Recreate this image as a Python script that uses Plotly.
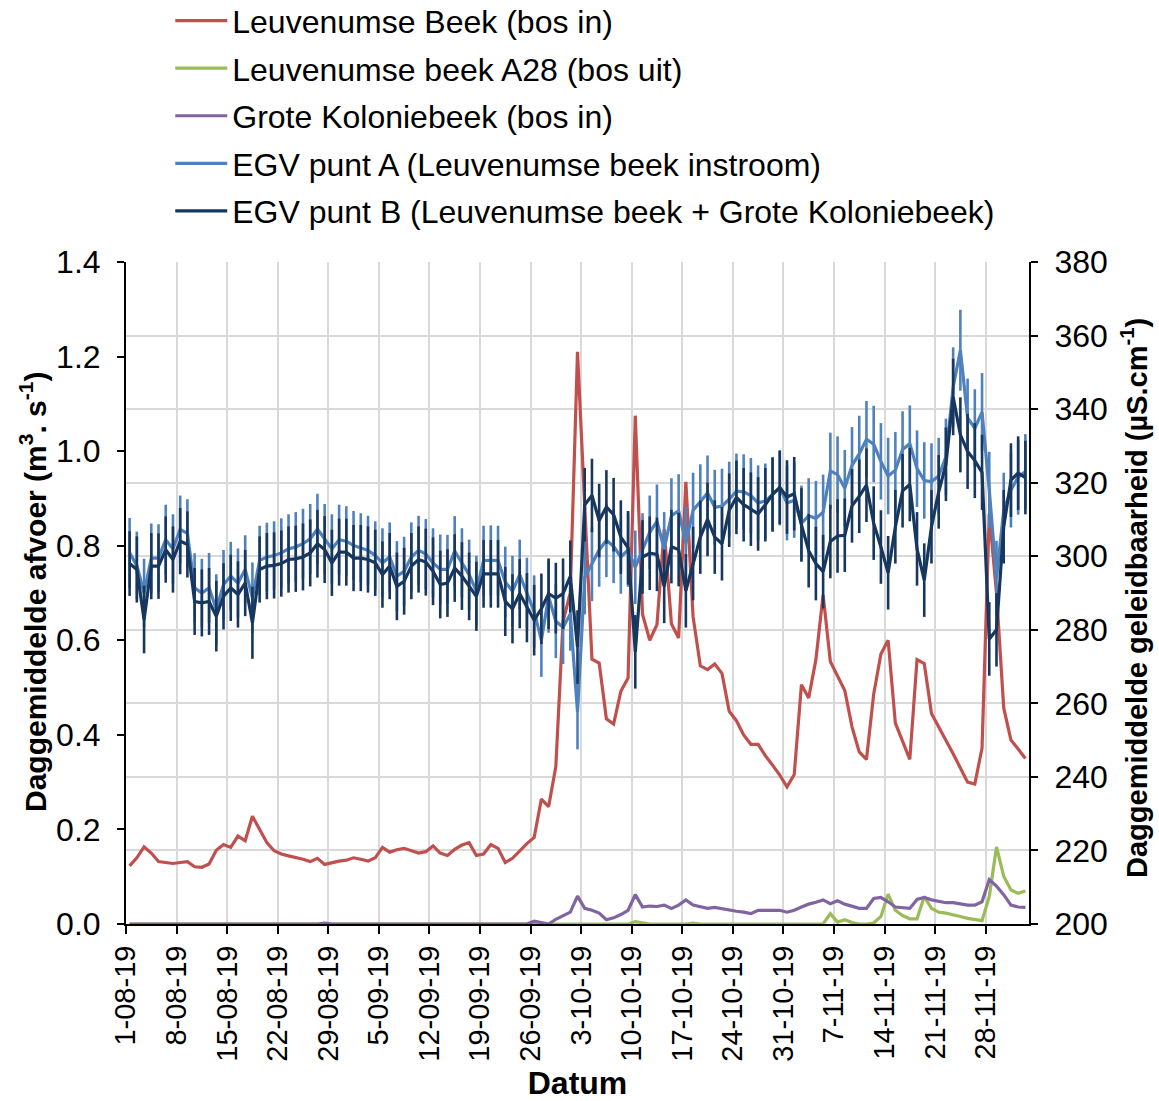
import pandas as pd
import plotly.graph_objects as go

# ---- categories (daily means, 1-08-2019 .. 3-12-2019, plotted at mid-day) ----
dates = pd.date_range("2019-08-01 12:00", periods=125, freq="D")

tick_vals = ["2019-08-01", "2019-08-08", "2019-08-15", "2019-08-22", "2019-08-29",
             "2019-09-05", "2019-09-12", "2019-09-19", "2019-09-26", "2019-10-03",
             "2019-10-10", "2019-10-17", "2019-10-24", "2019-10-31", "2019-11-07",
             "2019-11-14", "2019-11-21", "2019-11-28"]
tick_text = ["1-08-19", "8-08-19", "15-08-19", "22-08-19", "29-08-19",
             "5-09-19", "12-09-19", "19-09-19", "26-09-19", "3-10-19",
             "10-10-19", "17-10-19", "24-10-19", "31-10-19", "7-11-19",
             "14-11-19", "21-11-19", "28-11-19"]

# ---- discharge (m3/s), left axis ----
leuvenumse_beek = [
    0.123, 0.14, 0.163, 0.15, 0.132, 0.13, 0.128, 0.13, 0.132, 0.121,
    0.12, 0.127, 0.156, 0.168, 0.162, 0.186, 0.176, 0.228, 0.199, 0.172,
    0.155, 0.148, 0.144, 0.141, 0.137, 0.132, 0.139, 0.126, 0.13, 0.133,
    0.135, 0.14, 0.137, 0.133, 0.14, 0.162, 0.152, 0.157, 0.16, 0.155,
    0.15, 0.153, 0.165, 0.15, 0.145, 0.158, 0.167, 0.172, 0.145, 0.148,
    0.168, 0.16, 0.13, 0.139, 0.155, 0.17, 0.183, 0.264, 0.248, 0.333,
    0.64, 0.70, 1.21, 0.88, 0.56, 0.552, 0.434, 0.423, 0.492, 0.52,
    1.075, 0.655, 0.6, 0.633, 0.835, 0.635, 0.605, 0.935, 0.65, 0.546,
    0.538, 0.55, 0.53, 0.45, 0.43, 0.4, 0.38, 0.38, 0.356, 0.336,
    0.315, 0.29, 0.316, 0.506, 0.478, 0.559, 0.696, 0.555, 0.526, 0.494,
    0.417, 0.364, 0.348, 0.486, 0.571, 0.6, 0.425, 0.385, 0.348, 0.559,
    0.551, 0.445, 0.417, 0.39, 0.36, 0.33, 0.3, 0.296, 0.372, 0.868,
    0.7, 0.457, 0.389, 0.37, 0.35]

leuvenumse_a28 = [
    0, 0, 0, 0, 0, 0, 0, 0, 0, 0,
    0, 0, 0, 0, 0, 0, 0, 0, 0, 0,
    0, 0, 0, 0, 0, 0, 0, 0, 0, 0,
    0, 0, 0, 0, 0, 0, 0, 0, 0, 0,
    0, 0, 0, 0, 0, 0, 0, 0, 0, 0,
    0, 0, 0, 0, 0, 0, 0, 0, 0, 0,
    0, 0, 0, 0, 0, 0, 0, 0, 0, 0,
    0.005, 0.003, 0, 0, 0, 0, 0, 0, 0.002, 0,
    0, 0, 0, 0, 0, 0, 0, 0, 0, 0,
    0, 0, 0, 0, 0, 0, 0, 0.022, 0.004, 0.009,
    0.003, 0, 0, 0.002, 0.016, 0.063, 0.029, 0.018, 0.011, 0.011,
    0.058, 0.033, 0.025, 0.023, 0.02, 0.016, 0.012, 0.009, 0.007, 0.058,
    0.163, 0.101, 0.072, 0.065, 0.07]

grote_koloniebeek = [
    0, 0, 0, 0, 0, 0, 0, 0, 0, 0,
    0, 0, 0, 0, 0, 0, 0, 0, 0, 0,
    0, 0, 0, 0, 0, 0, 0, 0.002, 0, 0,
    0, 0, 0, 0, 0, 0, 0, 0, 0, 0,
    0, 0, 0, 0, 0, 0, 0, 0, 0, 0,
    0, 0, 0, 0, 0, 0, 0.006, 0.003, 0.0, 0.01,
    0.018, 0.025, 0.059, 0.033, 0.029, 0.023, 0.009, 0.013, 0.02, 0.029,
    0.062, 0.036, 0.038, 0.037, 0.04, 0.033, 0.04, 0.051, 0.04, 0.037,
    0.033, 0.035, 0.032, 0.029, 0.027, 0.025, 0.022, 0.029, 0.029, 0.029,
    0.029, 0.025, 0.029, 0.036, 0.042, 0.046, 0.051, 0.043, 0.049, 0.042,
    0.037, 0.033, 0.033, 0.054, 0.056, 0.047, 0.036, 0.034, 0.033, 0.052,
    0.056, 0.051, 0.048, 0.045, 0.045, 0.043, 0.04, 0.04, 0.047, 0.094,
    0.08, 0.062, 0.04, 0.036, 0.035]

# ---- conductivity (uS/cm), right axis ----
egv_a = [
    300.9, 297.5, 290.0, 299.5, 299.5, 304.5, 302.0, 307.3, 306.2, 291.4,
    290.0, 291.4, 285.5, 292.3, 294.6, 292.7, 296.4, 288.7, 298.9, 299.8,
    300.2, 300.9, 302.0, 302.5, 303.4, 304.7, 307.4, 304.7, 302.0, 304.5,
    304.1, 302.9, 302.3, 301.6, 300.2, 298.2, 299.8, 294.6, 295.9, 299.8,
    301.6, 300.6, 298.2, 296.4, 296.4, 301.4, 298.2, 295.0, 290.5, 298.8,
    298.9, 298.8, 293.0, 290.5, 295.0, 290.0, 285.0, 277.2, 289.0, 282.3,
    280.7, 284.3, 257.7, 294.2, 297.8, 301.7, 304.3, 302.7, 299.8, 301.7,
    297.0, 301.7, 306.5, 309.5, 302.0, 311.0, 312.3, 303.5, 312.5, 314.8,
    317.2, 313.3, 313.6, 315.5, 317.7, 317.5, 316.5, 314.5, 315.0, 316.8,
    318.6, 314.5, 315.2, 309.0, 311.0, 310.3, 312.0, 323.2, 322.2, 318.5,
    324.7, 327.8, 331.8, 330.5, 325.8, 321.8, 323.4, 329.0, 330.6, 323.8,
    320.6, 320.3, 321.8, 327.0, 346.0, 356.0, 337.7, 334.8, 339.2, 318.0,
    294.0, 312.5, 318.0, 321.5, 323.0]

egv_b = [
    298.0, 296.4, 282.8, 297.3, 297.3, 301.8, 299.1, 304.1, 303.2, 287.7,
    287.3, 287.7, 283.7, 289.1, 291.4, 289.6, 292.7, 281.9, 296.4, 297.3,
    297.5, 298.0, 299.1, 299.3, 299.8, 300.9, 303.4, 301.8, 298.2, 301.1,
    301.1, 299.5, 299.5, 299.1, 298.2, 295.0, 297.3, 291.8, 293.2, 297.3,
    299.1, 298.4, 295.9, 292.3, 292.7, 296.8, 294.6, 291.8, 289.1, 295.2,
    295.2, 295.2, 287.7, 285.7, 289.8, 286.0, 282.6, 285.7, 289.8, 288.6,
    289.8, 294.5, 275.3, 314.0, 316.5, 309.7, 313.4, 311.3, 305.2, 302.3,
    274.0, 299.8, 300.8, 300.5, 291.8, 302.6, 301.8, 290.6, 298.0, 305.2,
    310.0, 305.2, 303.4, 312.5, 316.0, 314.0, 312.8, 311.5, 314.0, 316.8,
    318.7, 316.1, 317.0, 308.5, 301.5, 298.0, 295.8, 304.0, 305.5, 305.7,
    313.7, 316.3, 319.3, 309.0, 302.5, 295.5, 308.0, 317.8, 319.5, 302.0,
    293.5, 308.0, 317.5, 325.0, 343.3, 333.0, 328.5, 326.0, 322.8, 277.5,
    280.0, 308.0, 320.7, 322.6, 321.4]

# error bars (+/- uS/cm)
err_a = [
    9.5, 9.2, 9.3, 9.4, 9.2, 9.5, 9.4, 9.2, 9.3, 9.4,
    9.3, 9.5, 9.6, 9.4, 9.3, 9.4, 9.3, 9.6, 9.4, 9.3,
    9.3, 9.4, 9.4, 9.5, 9.5, 9.5, 9.6, 9.5, 9.4, 9.5,
    9.5, 9.4, 9.4, 9.4, 9.3, 9.4, 9.4, 9.5, 9.4, 9.4,
    9.4, 9.5, 9.4, 9.5, 9.4, 9.5, 9.4, 9.5, 9.6, 9.5,
    9.5, 9.5, 9.6, 9.6, 9.5, 9.6, 9.8, 10.0, 9.8, 10.0,
    10.0, 10.0, 10.2, 10.0, 10.0, 10.0, 10.0, 10.0, 10.0, 10.0,
    10.0, 10.0, 10.0, 10.0, 10.0, 10.2, 10.0, 10.0, 10.2, 10.2,
    10.2, 10.2, 10.2, 10.2, 10.2, 10.2, 10.2, 10.2, 10.2, 10.2,
    10.2, 10.2, 10.2, 10.2, 10.2, 10.2, 10.2, 10.4, 10.4, 10.4,
    10.4, 10.4, 10.4, 10.4, 10.4, 10.4, 10.4, 10.4, 10.4, 10.4,
    10.4, 10.4, 10.4, 10.4, 10.8, 11.0, 10.6, 10.6, 10.6, 10.4,
    10.2, 10.2, 10.2, 10.2, 10.2]

err_b = [
    8.8, 9.0, 9.2, 9.0, 8.9, 9.0, 9.0, 9.0, 9.0, 9.1,
    9.1, 9.1, 9.6, 9.0, 9.0, 9.0, 9.0, 9.8, 9.0, 9.0,
    9.0, 9.0, 9.0, 9.0, 9.1, 9.1, 9.2, 9.1, 9.0, 9.1,
    9.1, 9.0, 9.0, 9.0, 9.0, 9.0, 9.0, 9.2, 9.1, 9.0,
    9.0, 9.1, 9.2, 9.2, 9.2, 9.2, 9.2, 9.2, 9.4, 9.2,
    9.2, 9.2, 9.4, 9.4, 9.4, 9.4, 9.6, 9.6, 9.6, 9.6,
    9.6, 9.8, 10.0, 10.0, 10.0, 10.0, 10.0, 10.0, 10.0, 10.0,
    10.0, 10.0, 10.0, 10.0, 10.0, 10.0, 10.0, 10.0, 10.0, 10.0,
    10.0, 10.0, 10.0, 10.0, 10.0, 10.0, 10.0, 10.0, 10.0, 10.0,
    10.0, 10.0, 10.0, 10.0, 10.0, 10.0, 10.0, 10.0, 10.0, 10.0,
    10.0, 10.0, 10.0, 10.0, 10.0, 10.0, 10.0, 10.0, 10.0, 10.0,
    10.0, 10.0, 10.0, 10.0, 10.4, 10.2, 10.2, 10.2, 10.2, 10.0,
    10.0, 10.0, 10.0, 10.0, 10.0]

names = ["Leuvenumse Beek (bos in)",
         "Leuvenumse beek A28 (bos uit)",
         "Grote Koloniebeek (bos in)",
         "EGV punt A (Leuvenumse beek instroom)",
         "EGV punt B (Leuvenumse beek + Grote Koloniebeek)"]
colors = ["#C0504D", "#9BBB59", "#8064A2", "#4F81BD", "#17375E"]

left_title = "<b>Daggemiddelde afvoer (m<sup>3</sup>. s<sup>-1</sup>)</b>"
right_title = "<b>Daggemiddelde geleidbaarheid (µS.cm<sup>-1</sup>)</b>"

FONT = "Liberation Sans, Arial, sans-serif"

fig = go.Figure()
for name, vals, col in zip(names[:3], [leuvenumse_beek, leuvenumse_a28, grote_koloniebeek], colors[:3]):
    fig.add_trace(go.Scatter(x=dates, y=vals, name=name, mode="lines",
                             line=dict(color=col, width=3.2), legendgroup=name,
                             yaxis="y"))
for name, vals, err, col in zip(names[3:], [egv_a, egv_b], [err_a, err_b], colors[3:]):
    fig.add_trace(go.Scatter(x=dates, y=vals, name=name, mode="lines",
                             line=dict(color=col, width=3.2), legendgroup=name,
                             error_y=dict(type="data", array=err, visible=True,
                                          color=col, thickness=2.6, width=0),
                             yaxis="y2"))

fig.update_layout(
    width=1159, height=1101,
    margin=dict(l=126, r=130, t=262, b=177, autoexpand=False),
    paper_bgcolor="white", plot_bgcolor="white",
    font=dict(family=FONT, size=30, color="black"),
    showlegend=True,
    legend=dict(xref="paper", yref="paper", x=0.049, y=1.406,
                xanchor="left", yanchor="top", font=dict(size=32),
                itemwidth=52, tracegroupgap=3, bgcolor="rgba(0,0,0,0)"),
    xaxis=dict(type="date", range=["2019-08-01", "2019-12-04"],
               tickvals=tick_vals, ticktext=tick_text, tickangle=-90,
               showgrid=True, gridcolor="#D9D9D9", gridwidth=2,
               ticks="outside", ticklen=8, tickwidth=2, tickcolor="black",
               showline=True, linecolor="black", linewidth=2,
               tickfont=dict(size=29), zeroline=False,
               title=dict(text="<b>Datum</b>", font=dict(size=32))),
    yaxis=dict(range=[0, 1.4], dtick=0.2, tickformat=".1f",
               showgrid=False, zeroline=False,
               ticks="outside", ticklen=7, tickwidth=2, tickcolor="black",
               ticklabelstandoff=10,
               showline=True, linecolor="black", linewidth=2,
               tickfont=dict(size=32)),
    yaxis2=dict(range=[200, 380], dtick=20, overlaying="y", side="right",
                showgrid=True, gridcolor="#D9D9D9", gridwidth=2, zeroline=False,
                ticks="outside", ticklen=7, tickwidth=2, tickcolor="black",
                ticklabelstandoff=10,
                showline=True, linecolor="black", linewidth=2,
                tickfont=dict(size=32)),
    annotations=[
        dict(text=left_title, xref="paper", yref="paper", x=-0.103, y=0.503,
             xanchor="center", yanchor="middle", textangle=-90, showarrow=False,
             font=dict(size=30)),
        dict(text=right_title, xref="paper", yref="paper", x=1.117, y=0.492,
             xanchor="center", yanchor="middle", textangle=-90, showarrow=False,
             font=dict(size=29)),
    ],
)

fig.write_html("out.html")
